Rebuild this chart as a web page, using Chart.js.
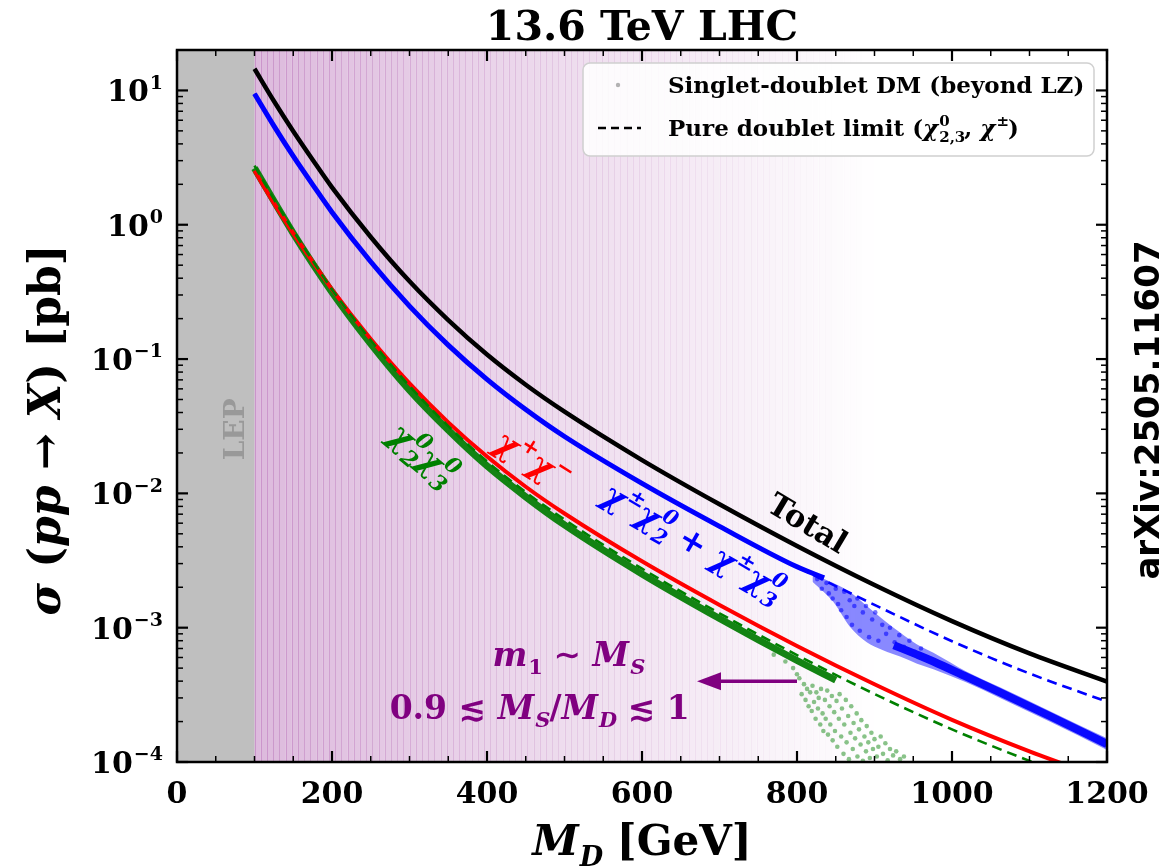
<!DOCTYPE html>
<html>
<head>
<meta charset="utf-8">
<script src="https://cdn.jsdelivr.net/npm/chart.js@4.4.1/dist/chart.umd.min.js"></script>
<style>
html, body { margin: 0; padding: 0; background: #fff; }
#wrap { width: 1176px; height: 868px; position: relative; }
</style>
</head>
<body>
<div id="wrap"><canvas id="xsecChart"></canvas></div>
<script>
// Cross sections (pb), pure doublet limit
const massGrid = [100, 125, 150, 175, 200, 250, 300, 350, 400, 450, 500, 600, 700, 800, 900, 1000, 1100, 1200];
const totalXsec = [14.5, 8.34, 4.97, 3.05, 1.90, 0.811, 0.379, 0.195, 0.108, 0.0644, 0.0406, 0.0177, 0.0083, 0.00406, 0.00208, 0.00112, 0.000644, 0.000397];
const charNeutXsec = [9.46, 5.45, 3.24, 1.99, 1.24, 0.53, 0.248, 0.127, 0.0706, 0.0421, 0.0265, 0.01186, 0.00568, 0.00284, 0.00148, 0.000793, 0.000456, 0.000281];
const charCharXsec = [2.52, 1.45, 0.863, 0.53, 0.330, 0.141, 0.0659, 0.0338, 0.0188, 0.0112, 0.00708, 0.00312, 0.001476, 0.000731, 0.000379, 0.000206, 0.00012, 0.000074];
const neutNeutXsec = [2.76, 1.55, 0.904, 0.542, 0.330, 0.138, 0.0630, 0.0317, 0.0173, 0.0102, 0.00638, 0.00275, 0.00128, 0.000625, 0.000321, 0.000175, 0.000102, 0.0000627];

// singlet-doublet scan: chi+- chi0 points
const blueDenseX = [100, 125, 150, 175, 200, 250, 300, 350, 400, 450, 500, 600, 700, 800, 835];
const blueDenseY = [9.46, 5.45, 3.24, 1.99, 1.24, 0.53, 0.248, 0.127, 0.0706, 0.0421, 0.0265, 0.01186, 0.00568, 0.00284, 0.00235];
const blueCloudX = [820, 847, 868, 890, 911, 933, 955, 976, 1019, 1062, 1126, 1200];
const blueCloudHi = [0.0025, 0.00215, 0.00185, 0.00145, 0.00115, 0.00092, 0.00075, 0.00065, 0.00047, 0.00036, 0.00024, 0.00015];
const blueCloudLo = [0.0022, 0.00155, 0.00102, 0.00078, 0.00068, 0.00061, 0.00054, 0.00049, 0.00039, 0.0003, 0.0002, 0.000123];
const blueCoreX = [925, 955, 976, 1019, 1062, 1126, 1200];
const blueCoreY = [0.00074, 0.00063, 0.00056, 0.00043, 0.00033, 0.00022, 0.000136];
const blueSpeckX = [826, 832, 838, 841, 846, 850, 853, 857, 861, 864, 868, 871, 874, 878, 881,
  885, 889, 893, 897, 901, 905, 910, 915, 920, 926, 932, 938, 945, 952, 960];
const blueSpeckY = [2.3e-3, 1.95e-3, 2.15e-3, 1.8e-3, 1.65e-3, 1.95e-3, 1.5e-3, 1.35e-3, 1.85e-3, 1.2e-3, 1.6e-3, 1.05e-3, 1.45e-3, 1.65e-3, 0.95e-3,
  1.3e-3, 1.45e-3, 0.85e-3, 1.15e-3, 1.3e-3, 0.8e-3, 1.05e-3, 0.9e-3, 1.0e-3, 0.78e-3, 0.88e-3, 0.72e-3, 0.8e-3, 0.66e-3, 0.7e-3];

// chi2 chi3 points: dense band, then the sparse cloud
const greenDenseX = [100, 150, 200, 250, 300, 350, 400, 450, 500, 600, 700, 800, 850];
const greenDenseY = [2.64, 0.863, 0.315, 0.130, 0.0587, 0.0296, 0.016, 0.00942, 0.00582, 0.00251, 0.00117, 0.00057, 0.000407];
const greenCloudX = [770, 785, 795, 800, 803, 806, 809, 811, 813, 815, 817, 819, 820, 822, 824, 825, 827, 828, 830, 831,
  833, 834, 836, 837, 839, 840, 842, 843, 845, 846, 848, 849, 851, 852, 854, 855, 857, 858, 860, 861,
  863, 864, 866, 867, 869, 870, 872, 873, 875, 877, 878, 880, 882, 883, 885, 887, 889, 890, 892, 894,
  896, 898, 900, 903, 905, 908, 911, 914, 917, 920, 924, 928, 933, 938];
const greenCloudY = [6.3e-4, 5.6e-4, 5.0e-4, 4.5e-4, 4.2e-4, 3.2e-4, 3.8e-4, 2.9e-4, 3.5e-4, 2.6e-4,
  3.3e-4, 2.4e-4, 3.7e-4, 2.8e-4, 2.1e-4, 3.3e-4, 2.5e-4, 3.0e-4, 1.9e-4, 3.5e-4,
  2.3e-4, 1.7e-4, 2.9e-4, 2.1e-4, 3.4e-4, 1.6e-4, 2.6e-4, 1.9e-4, 3.1e-4, 1.45e-4,
  2.35e-4, 1.7e-4, 2.85e-4, 1.3e-4, 2.1e-4, 3.2e-4, 1.55e-4, 2.5e-4, 1.15e-4, 1.9e-4,
  2.9e-4, 1.4e-4, 2.2e-4, 1.05e-4, 1.65e-4, 2.6e-4, 1.25e-4, 1.95e-4, 1.5e-4, 2.3e-4,
  1.1e-4, 1.75e-4, 1.35e-4, 2.05e-4, 1.02e-4, 1.55e-4, 1.2e-4, 1.85e-4, 1.4e-4, 1.07e-4,
  1.65e-4, 1.25e-4, 1.48e-4, 1.1e-4, 1.3e-4, 1.55e-4, 1.15e-4, 1.38e-4, 1.03e-4, 1.25e-4,
  1.12e-4, 1.2e-4, 1.05e-4, 1.1e-4];

// axes
const xTicks = [0, 200, 400, 600, 800, 1000, 1200];
const yTicks = [1e-4, 1e-3, 1e-2, 1e-1, 1, 10];
const yTickExp = ['\u22124', '\u22123', '\u22122', '\u22121', '0', '1'];
const lepLimit = 100;

const SERIF = '"DejaVu Serif", "DejaVu Sans", serif';

function pts(xs, ys) {
    return xs.map((v, i) => ({ x: v, y: ys[i] }));
}

function fontFor(p, size) {
    return `${p.it ? 'italic ' : ''}${p.light ? '' : 'bold '}${size}px ${SERIF}`;
}

// draws text made of parts {t, it, sub, sup}
function drawParts(ctx, parts, x, y, size, align) {
    const small = Math.round(size * 0.64);
    const widths = parts.map(p => {
        ctx.font = fontFor(p, size);
        const w = ctx.measureText(p.t).width;
        ctx.font = fontFor({ it: p.sit !== undefined ? p.sit : p.it }, small);
        let sw = 0;
        if (p.sub) sw = Math.max(sw, ctx.measureText(p.sub).width);
        if (p.sup) sw = Math.max(sw, ctx.measureText(p.sup).width);
        return [w, sw];
    });
    const total = widths.reduce((s, w) => s + w[0] + w[1], 0);
    let cx = align === 'center' ? x - total / 2 : align === 'right' ? x - total : x;
    ctx.textAlign = 'left';
    ctx.textBaseline = 'alphabetic';
    parts.forEach((p, i) => {
        ctx.font = fontFor(p, size);
        ctx.fillText(p.t, cx, y);
        cx += widths[i][0];
        ctx.font = fontFor({ it: p.sit !== undefined ? p.sit : p.it }, small);
        if (p.sup) ctx.fillText(p.sup, cx + 1, y - size * 0.42);
        if (p.sub) ctx.fillText(p.sub, cx + 1, y + size * 0.26);
        cx += widths[i][1];
    });
    return total;
}

const backdropPlugin = {
    id: 'backdrop',
    beforeDatasetsDraw(chart) {
        const { ctx, chartArea: a, scales: { x } } = chart;
        ctx.save();
        ctx.beginPath();
        ctx.rect(a.left, a.top, a.width, a.height);
        ctx.clip();
        const x0 = x.getPixelForValue(0);
        const xl = x.getPixelForValue(lepLimit);
        ctx.fillStyle = '#bfbfbf';
        ctx.fillRect(x0, a.top, xl - x0, a.height);
        // fading purple bands of the m1 ~ MS region
        const from = lepLimit, to = 900, n = 100;
        const step = (to - from) / n;
        for (let i = 0; i < n; i++) {
            const p0 = x.getPixelForValue(from + i * step);
            const p1 = x.getPixelForValue(from + (i + 1) * step);
            const alpha = 0.27 * (1 - i / n);
            ctx.fillStyle = `rgba(128,0,128,${alpha})`;
            ctx.fillRect(p0, a.top, p1 - p0, a.height);
            ctx.strokeStyle = `rgba(128,0,128,${alpha * 0.75})`;
            ctx.lineWidth = 1;
            ctx.beginPath();
            ctx.moveTo(Math.round(p0) + 0.5, a.top);
            ctx.lineTo(Math.round(p0) + 0.5, a.bottom);
            ctx.stroke();
        }
        ctx.restore();
    }
};

const decorPlugin = {
    id: 'decor',
    afterDatasetsDraw(chart) {
        const { ctx, chartArea: a, scales: { x, y } } = chart;
        ctx.save();

        // curve labels
        const label = (parts, xv, yv, deg, color, size) => {
            ctx.save();
            ctx.translate(x.getPixelForValue(xv), y.getPixelForValue(yv));
            ctx.rotate(deg * Math.PI / 180);
            ctx.fillStyle = color;
            drawParts(ctx, parts, 0, size * 0.3, size, 'center');
            ctx.restore();
        };
        label([{ t: 'Total' }], 813, 0.0059, 31, '#000', 31);
        label([{ t: '\u03c7', it: true, sup: '\u00b1' }, { t: '\u03c7', it: true, sub: '2', sup: '0' },
               { t: ' + ' }, { t: '\u03c7', it: true, sup: '\u00b1' }, { t: '\u03c7', it: true, sub: '3', sup: '0' }],
              665, 0.0043, 30, '#0000ff', 33);
        label([{ t: '\u03c7', it: true, sup: '+' }, { t: '\u03c7', it: true, sup: '\u2212' }], 458, 0.0175, 32, '#ff0000', 34);
        label([{ t: '\u03c7', it: true, sub: '2', sup: '0' }, { t: '\u03c7', it: true, sub: '3', sup: '0' }], 316, 0.0195, 40, '#008000', 34);

        // LEP
        ctx.save();
        ctx.translate(244, y.getPixelForValue(0.03));
        ctx.rotate(-Math.PI / 2);
        ctx.fillStyle = '#999999';
        ctx.font = `bold 28px ${SERIF}`;
        ctx.textAlign = 'center';
        ctx.textBaseline = 'alphabetic';
        ctx.fillText('LEP', 0, 0);
        ctx.restore();

        // purple region note and arrow
        ctx.fillStyle = '#800080';
        drawParts(ctx, [{ t: 'm', it: true, sub: '1', sit: false }, { t: ' \u223c ' }, { t: 'M', it: true, sub: 'S' }],
                  x.getPixelForValue(505), y.getPixelForValue(6.3e-4) + 11, 33, 'center');
        drawParts(ctx, [{ t: '0.9 \u2272 ' }, { t: 'M', it: true, sub: 'S' }, { t: '/' }, { t: 'M', it: true, sub: 'D' }, { t: ' \u2272 1' }],
                  x.getPixelForValue(468), y.getPixelForValue(2.53e-4) + 11, 33, 'center');
        const ay = y.getPixelForValue(4.0e-4);
        const ax0 = x.getPixelForValue(800), ax1 = x.getPixelForValue(671);
        ctx.strokeStyle = '#800080';
        ctx.lineWidth = 3.5;
        ctx.beginPath();
        ctx.moveTo(ax0, ay);
        ctx.lineTo(ax1 + 18, ay);
        ctx.stroke();
        ctx.beginPath();
        ctx.moveTo(ax1, ay);
        ctx.lineTo(ax1 + 24, ay - 9);
        ctx.lineTo(ax1 + 24, ay + 9);
        ctx.closePath();
        ctx.fill();

        // legend
        const lx = a.right - 524, ly = a.top + 13;
        ctx.beginPath();
        ctx.roundRect(lx, ly, 511, 93, 7);
        ctx.fillStyle = 'rgba(255,255,255,0.85)';
        ctx.fill();
        ctx.strokeStyle = '#d0d0d0';
        ctx.lineWidth = 1.5;
        ctx.stroke();
        ctx.fillStyle = 'rgba(128,128,128,0.6)';
        ctx.beginPath();
        ctx.arc(lx + 35, ly + 22, 2.2, 0, Math.PI * 2);
        ctx.fill();
        ctx.strokeStyle = '#000';
        ctx.lineWidth = 2.5;
        ctx.setLineDash([8, 5]);
        ctx.beginPath();
        ctx.moveTo(lx + 15, ly + 65);
        ctx.lineTo(lx + 58, ly + 65);
        ctx.stroke();
        ctx.setLineDash([]);
        ctx.fillStyle = '#000';
        drawParts(ctx, [{ t: 'Singlet-doublet DM (beyond LZ)' }], lx + 85, ly + 30, 23, 'left');
        drawParts(ctx, [{ t: 'Pure doublet limit (' }, { t: '\u03c7', it: true, sub: '2,3', sup: '0', sit: false },
                        { t: ', ' }, { t: '\u03c7', it: true, sup: '\u00b1', sit: false }, { t: ')' }],
                  lx + 85, ly + 73, 23, 'left');

        // frame and ticks
        ctx.strokeStyle = '#000';
        ctx.lineWidth = 2.5;
        ctx.strokeRect(a.left, a.top, a.width, a.height);
        const tick = (px, py, dx, dy, len, w) => {
            ctx.lineWidth = w;
            ctx.beginPath();
            ctx.moveTo(px, py);
            ctx.lineTo(px + dx * len, py + dy * len);
            ctx.stroke();
        };
        for (let v = 0; v <= 1200; v += 50) {
            const px = x.getPixelForValue(v);
            const major = v % 200 === 0;
            tick(px, a.bottom, 0, -1, major ? 11 : 6, major ? 2.2 : 1.5);
            tick(px, a.top, 0, 1, major ? 11 : 6, major ? 2.2 : 1.5);
        }
        yTicks.forEach((dec, k) => {
            const py = y.getPixelForValue(dec);
            tick(a.left, py, 1, 0, 11, 2.2);
            tick(a.right, py, -1, 0, 11, 2.2);
            if (k < yTicks.length - 1) {
                for (let m = 2; m <= 9; m++) {
                    const my = y.getPixelForValue(dec * m);
                    tick(a.left, my, 1, 0, 6, 1.5);
                    tick(a.right, my, -1, 0, 6, 1.5);
                }
            } else {
                const my = y.getPixelForValue(dec * 2);
                if (my >= a.top) {
                    tick(a.left, my, 1, 0, 6, 1.5);
                    tick(a.right, my, -1, 0, 6, 1.5);
                }
            }
        });

        // tick labels
        ctx.fillStyle = '#000';
        xTicks.forEach(v => {
            drawParts(ctx, [{ t: String(v) }], x.getPixelForValue(v), a.bottom + 41, 30, 'center');
        });
        yTicks.forEach((dec, k) => {
            drawParts(ctx, [{ t: '10', sup: yTickExp[k], sit: false }], a.left - 15, y.getPixelForValue(dec) + 11, 30, 'right');
        });

        // axis titles and title
        drawParts(ctx, [{ t: 'M', it: true, sub: 'D' }, { t: ' [GeV]' }], (a.left + a.right) / 2, 855, 42, 'center');
        ctx.save();
        ctx.translate(46, (a.top + a.bottom) / 2 + 24);
        ctx.rotate(-Math.PI / 2);
        drawParts(ctx, [{ t: '\u03c3', it: true }, { t: ' (' }, { t: 'pp', it: true }, { t: ' \u2192 ' }, { t: 'X', it: true }, { t: ') [pb]' }],
                  0, 14, 44, 'center');
        ctx.restore();
        drawParts(ctx, [{ t: '13.6 TeV LHC' }], (a.left + a.right) / 2, 40, 41, 'center');

        // arXiv stamp
        ctx.save();
        ctx.translate(1150, 410);
        ctx.rotate(-Math.PI / 2);
        ctx.font = 'bold 34px "DejaVu Sans", sans-serif';
        ctx.textAlign = 'center';
        ctx.textBaseline = 'middle';
        ctx.fillText('arXiv:2505.11607', 0, 0);
        ctx.restore();

        ctx.restore();
    }
};

const lineSet = (label, data, color, width, order, extra) => Object.assign({
    label: label,
    data: data,
    borderColor: color,
    backgroundColor: color,
    borderWidth: width,
    pointRadius: 0,
    fill: false,
    cubicInterpolationMode: 'monotone',
    order: order
}, extra || {});

const datasets = [
    lineSet('chi2 chi3 scan (sparse)', pts(greenCloudX, greenCloudY), 'rgba(20,135,20,0.5)', 0, 20,
            { showLine: false, pointRadius: 2.3, pointBorderWidth: 0 }),
    lineSet('chi2 chi3 scan', pts(greenDenseX, greenDenseY), '#138313', 7, 19),
    lineSet('chi+ chi-', pts(massGrid, charCharXsec), '#ff0000', 4, 18),
    lineSet('chi2 chi3 doublet', pts(massGrid, neutNeutXsec), '#008000', 2.6, 17, { borderDash: [10, 6] }),
    lineSet('chi+- chi0 cloud top', pts(blueCloudX, blueCloudHi), 'rgba(0,0,255,0)', 0, 16),
    lineSet('chi+- chi0 cloud', pts(blueCloudX, blueCloudLo), 'rgba(20,20,255,0.5)', 0, 15, { fill: 4 }),
    lineSet('chi+- chi0 speckle', pts(blueSpeckX, blueSpeckY), 'rgba(0,0,255,0.55)', 0, 14.5,
            { showLine: false, pointRadius: 2.3, pointBorderWidth: 0 }),
    lineSet('chi+- chi0 core', pts(blueCoreX, blueCoreY), '#0a0aff', 8, 14),
    lineSet('chi+- chi0 scan', pts(blueDenseX, blueDenseY), '#0000ff', 5, 13),
    lineSet('chi+- chi0 doublet', pts(massGrid, charNeutXsec), '#0000ff', 2.6, 12, { borderDash: [10, 6] }),
    lineSet('Total', pts(massGrid, totalXsec), '#000000', 4.5, 10)
];

new Chart(document.getElementById('xsecChart'), {
    type: 'line',
    data: { datasets: datasets },
    options: {
        responsive: true,
        maintainAspectRatio: false,
        animation: false,
        layout: { padding: { left: 177, top: 50, right: 69, bottom: 106 } },
        plugins: {
            legend: { display: false },
            tooltip: { enabled: false }
        },
        scales: {
            x: { type: 'linear', min: 0, max: 1200, display: false },
            y: { type: 'logarithmic', min: 1e-4, max: 20, display: false }
        }
    },
    plugins: [backdropPlugin, decorPlugin]
});
</script>
</body>
</html>
